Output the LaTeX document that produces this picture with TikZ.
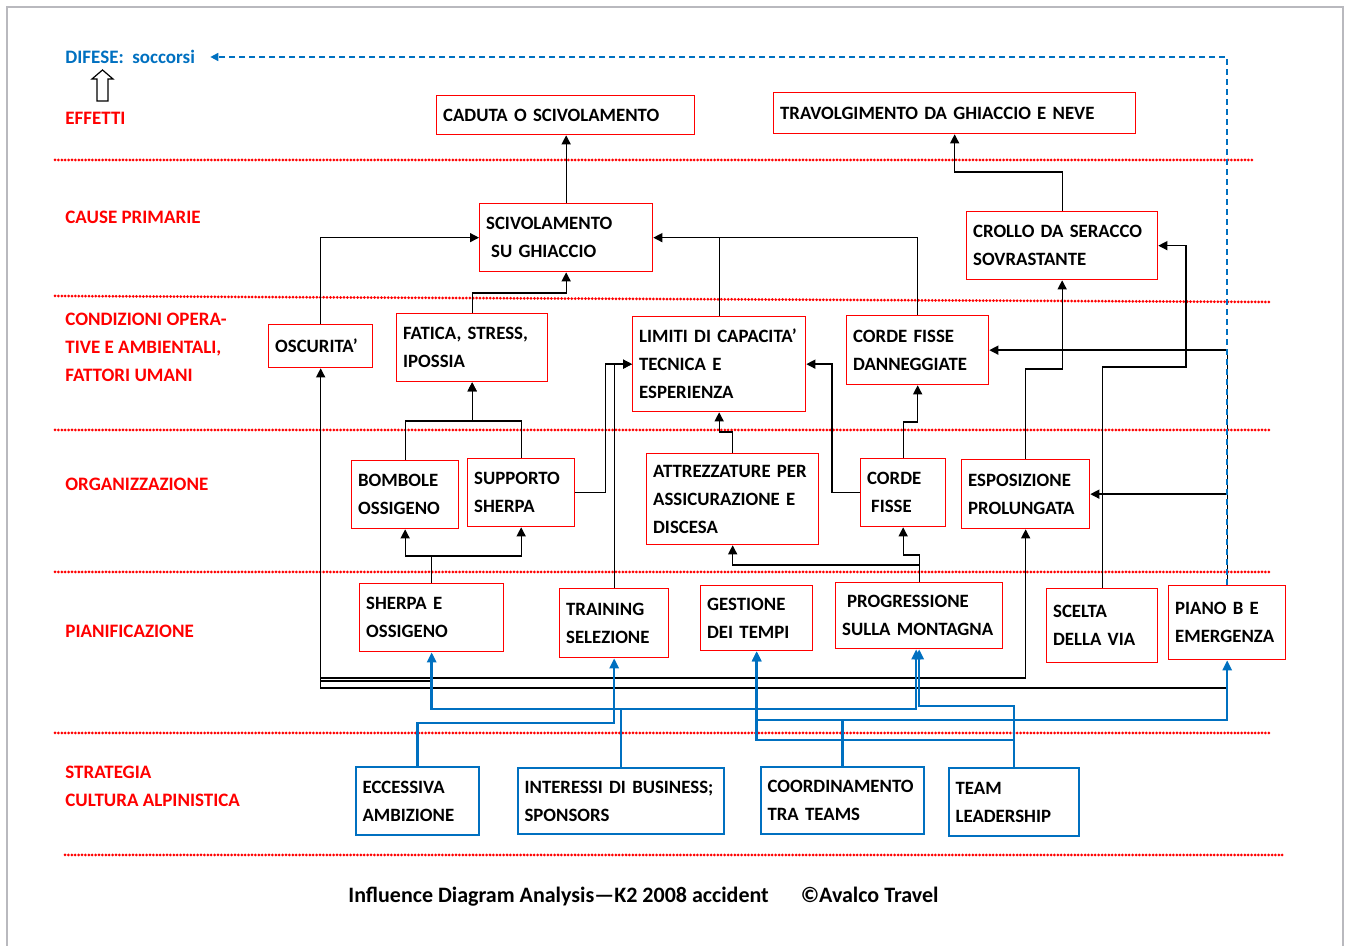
\documentclass[tikz,border=0pt]{standalone}
\usepackage{fontspec}
\setmainfont{Carlito}
\usetikzlibrary{arrows.meta}
\definecolor{difblue}{RGB}{0,112,192}
\definecolor{framegray}{RGB}{185,185,190}

\begin{document}
\begin{tikzpicture}[x=0.5pt,y=-0.5pt,
    cause/.style={draw=red,line width=0.65pt,anchor=north west,align=left,inner xsep=3.25pt,inner ysep=0pt,font=\bfseries\fontsize{9.4}{14}\selectfont},
    strat/.style={cause,draw=difblue,line width=1.1pt},
    level/.style={text=red,anchor=west,align=left,inner sep=0pt,font=\bfseries\fontsize{9.5}{14}\selectfont},
    link/.style={-{Triangle[length=4.5pt,width=4.5pt]},line width=0.65pt},
    blink/.style={link,draw=difblue,line width=1.3pt,-{Triangle[length=5pt,width=4.5pt]}},
    layer/.style={red,line width=1.5pt,line cap=round,dash pattern=on 0pt off 1.7pt}]
    \useasboundingbox (0,0) rectangle (1346,946);
    \draw[framegray,line width=0.75pt] (7,946) -- (7,7) -- (1343,7) -- (1343,946);

    % layers
    \draw[layer] (55,160) -- (1252,160);
    \draw[layer] (55,296) -- (1270,302);
    \draw[layer] (55,430) -- (1270,430);
    \draw[layer] (55,572) -- (1270,572);
    \draw[layer] (55,733) -- (1270,733);
    \draw[layer] (65,855) -- (1283,855);

    \node[level,text=difblue] (difese) at (65,57) {DIFESE:\ \ soccorsi};
    \draw[line width=0.6pt] (97,101) -- (97,79) -- (92,79) -- (102.5,70) -- (113,79) -- (108,79) -- (108,101) -- cycle;
    \node[level] (eff) at (65,118) {EFFETTI};
    \node[level] (cp) at (65,217) {CAUSE PRIMARIE};
    \node[level] (cond) at (65,347) {CONDIZIONI OPERA-\\TIVE E AMBIENTALI,\\FATTORI UMANI};
    \node[level] (org) at (65,484) {ORGANIZZAZIONE};
    \node[level] (pian) at (65,631) {PIANIFICAZIONE};
    \node[level] (strat) at (65,786) {STRATEGIA\\CULTURA ALPINISTICA};

    % effetti
    \node[cause,minimum width=129pt,minimum height=19.5pt,text width=122.5pt] (cad) at (436,95) {CADUTA O SCIVOLAMENTO};
    \node[cause,minimum width=181pt,minimum height=20.5pt,text width=174.5pt] (trav) at (773,92) {TRAVOLGIMENTO DA GHIACCIO E NEVE};
    % cause primarie
    \node[cause,minimum width=86.5pt,minimum height=34pt,text width=80pt] (scv) at (479,203) {SCIVOLAMENTO\\\hspace*{2.5pt}SU GHIACCIO};
    \node[cause,minimum width=95.5pt,minimum height=34pt,text width=89pt] (crol) at (966,211) {CROLLO DA SERACCO\\SOVRASTANTE};
    % condizioni
    \node[cause,minimum width=52pt,minimum height=21.5pt,text width=45.5pt] (osc) at (268,324) {OSCURITA’};
    \node[cause,minimum width=75.5pt,minimum height=34pt,text width=69pt] (fat) at (396,313) {FATICA, STRESS,\\IPOSSIA};
    \node[cause,minimum width=86.5pt,minimum height=47.5pt,text width=80pt] (lim) at (632,316) {LIMITI DI CAPACITA’\\TECNICA E\\ESPERIENZA};
    \node[cause,minimum width=71pt,minimum height=34.5pt,text width=64.5pt] (cfd) at (846,315) {CORDE FISSE\\DANNEGGIATE};
    % organizzazione
    \node[cause,minimum width=53.5pt,minimum height=34pt,text width=47pt] (bomb) at (351,460) {BOMBOLE\\OSSIGENO};
    \node[cause,minimum width=53.5pt,minimum height=34pt,text width=47pt] (supp) at (467,458) {SUPPORTO\\SHERPA};
    \node[cause,minimum width=86pt,minimum height=45.5pt,text width=79.5pt] (attr) at (646,453) {ATTREZZATURE PER\\ASSICURAZIONE E\\DISCESA};
    \node[cause,minimum width=42.5pt,minimum height=34pt,text width=36pt] (cf) at (860,458) {CORDE\\\hspace*{2pt}FISSE};
    \node[cause,minimum width=64pt,minimum height=34.5pt,text width=57.5pt] (espo) at (961,459) {ESPOSIZIONE\\PROLUNGATA};
    % pianificazione
    \node[cause,minimum width=72pt,minimum height=34pt,text width=65.5pt] (sho) at (359,583) {SHERPA E\\OSSIGENO};
    \node[cause,minimum width=54.5pt,minimum height=34.5pt,text width=48pt] (trn) at (559,588) {TRAINING\\SELEZIONE};
    \node[cause,minimum width=56pt,minimum height=32.5pt,text width=49.5pt] (gest) at (700,585) {GESTIONE\\DEI TEMPI};
    \node[cause,minimum width=83.5pt,minimum height=33pt,text width=77pt] (prog) at (835,582) {\hspace*{2.5pt}PROGRESSIONE\\SULLA MONTAGNA};
    \node[cause,minimum width=55.5pt,minimum height=37pt,text width=49pt] (scel) at (1046,588) {SCELTA\\DELLA VIA};
    \node[cause,minimum width=58.5pt,minimum height=37pt,text width=52pt] (pianob) at (1168,585) {PIANO B E\\EMERGENZA};
    % strategia
    \node[strat,minimum width=61.5pt,minimum height=34pt,text width=55pt] (ecc) at (355,766) {ECCESSIVA\\AMBIZIONE};
    \node[strat,minimum width=103pt,minimum height=33pt,text width=96.5pt] (inter) at (517,767) {INTERESSI DI BUSINESS;\\SPONSORS};
    \node[strat,minimum width=81.5pt,minimum height=33.5pt,text width=75pt] (coord) at (760,766) {COORDINAMENTO\\TRA TEAMS};
    \node[strat,minimum width=65pt,minimum height=34pt,text width=58.5pt] (lead) at (948,767) {TEAM\\LEADERSHIP};

    \node[anchor=west,inner sep=0pt,font=\bfseries\fontsize{11}{13}\selectfont] (foot) at (348,897) {Influence Diagram Analysis—K2 2008 accident\hspace{16pt}©Avalco Travel};

    \coordinate (darkrun) at (0,688);
    \coordinate (exporun) at (0,678);
    \coordinate (shortrun) at (0,681);
    \coordinate (scelbend) at (1186,367);

    % black links
    \draw[link] (scv.north) -- (scv.north |- cad.south);
    \draw[link] (crol.north) -- ++(0,-39) -| (trav.south);
    \draw[link] (osc.north) |- (scv.west);
    \draw[link] (fat.north) -- ++(0,-20) -| (scv.south);
    \draw[link] (lim.north) |- (scv.east);
    \draw[line width=0.65pt] (cfd.north) |- (lim.north |- scv.east);
    \draw[link] (espo.north) -- ++(0,-90) -| (crol.south);
    \draw[link] (scel.north) |- (scelbend) |- (crol.east);
    \draw[link] (pianob.north) |- (cfd.east);
    \draw[link] (pianob.north |- espo.east) -- (espo.east);
    \draw[link] (bomb.north) -- ++(0,-39) -| (fat.south);
    \draw[link] (supp.north) -- ++(0,-37) -| (fat.south);
    \draw[link] (supp.east) -- ++(30,0) |- (lim.west);
    \draw[link] (trn.north) |- (lim.west);
    \draw[link] (attr.north) -- ++(0,-21) -| (lim.south);
    \draw[link] (cf.west) -- ++(-28,0) |- (lim.east);
    \draw[link] (cf.north) -- ++(0,-36) -| (cfd.south);
    \draw[link] (sho.north) -- ++(0,-27) -| (bomb.south);
    \draw[link] (sho.north) -- ++(0,-27) -| (supp.south);
    \draw[link] (prog.north) -- ++(0,-27) -| (cf.south);
    \draw[link] (prog.north) -- ++(0,-17) -| (attr.south);
    \draw[link] (pianob.south |- darkrun) -| (osc.south);
    \draw[link] (osc.south |- exporun) -| (espo.south);
    \draw[line width=0.65pt] (osc.south |- shortrun) -- (sho.south |- shortrun);

    % difese
    \draw[difblue,line width=0.8pt,dash pattern=on 3pt off 2pt,-{Triangle[length=4pt,width=4pt]}] (pianob.north) |- ([xshift=7.5pt]difese.east);

    % blue links
    \draw[blink] (ecc.north) -- ++(0,-43) -| (trn.south);
    \draw[blink] (inter.north) -- ++(0,-58) -| (sho.south);
    \draw[blink] (inter.north) -- ++(0,-58) -| ([xshift=-1.5pt]prog.south);
    \draw[blink] (lead.north) -- ++(0,-61) -| (prog.south);
    \draw[blink] (coord.north) -- ++(0,-46) -| (pianob.south);
    \draw[blink] (coord.north) -- ++(0,-46) -| (gest.south);
    \draw[blink] (lead.north) -- ++(0,-27) -| (gest.south);
\end{tikzpicture}
\end{document}
